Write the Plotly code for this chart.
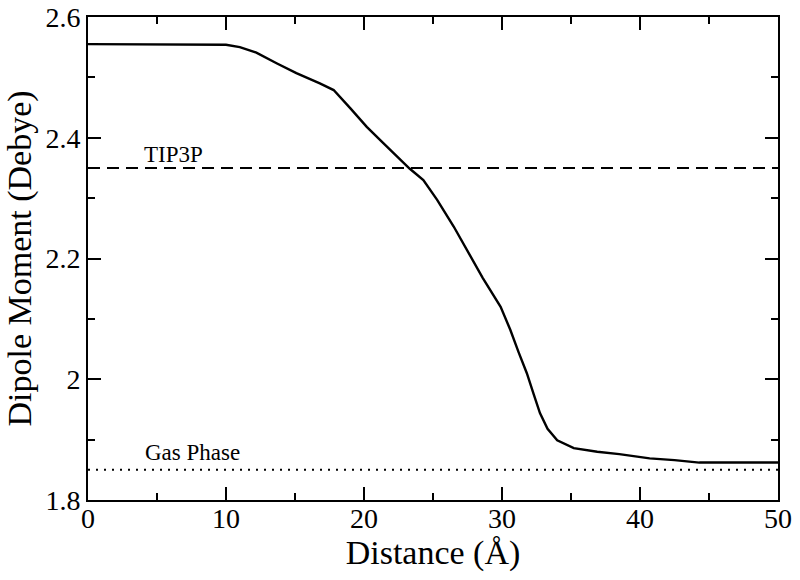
import plotly.graph_objects as go

# Data
distance = [0, 5, 10, 11, 12.2, 13.7, 15.1, 16.8, 17.8, 19.0, 20.2, 21.4, 22.4, 23.3,
            24.3, 25.3, 26.5, 27.7, 28.6, 29.9, 30.6, 31.2, 31.8, 32.3, 32.75, 33.3,
            34.0, 35.2, 36.9, 38.5, 40.7, 42.5, 44.3, 47, 50]
dipole = [2.555, 2.555, 2.554, 2.550, 2.541, 2.523, 2.507, 2.490, 2.479, 2.449, 2.418,
          2.391, 2.369, 2.349, 2.330, 2.297, 2.253, 2.203, 2.168, 2.120, 2.082, 2.045,
          2.010, 1.975, 1.944, 1.918, 1.899, 1.886, 1.880, 1.876, 1.869, 1.866, 1.862,
          1.862, 1.862]
x_range = [0, 50]
tip3p_value = 2.35
gas_phase_value = 1.85
ref_labels = ["TIP3P", "Gas Phase"]
ref_label_x = [6.2, 7.6]
ref_label_y = [2.373, 1.878]

FONT = "Liberation Serif, Times New Roman, serif"

fig = go.Figure()
fig.add_trace(go.Scatter(x=distance, y=dipole, mode="lines",
                         line=dict(color="black", width=2.4), showlegend=False))
fig.add_trace(go.Scatter(x=x_range, y=[tip3p_value, tip3p_value], mode="lines",
                         line=dict(color="black", width=2, dash="12px,7px"), showlegend=False))
fig.add_trace(go.Scatter(x=x_range, y=[gas_phase_value, gas_phase_value], mode="lines",
                         line=dict(color="black", width=2, dash="2px,6px"), showlegend=False))

for t, lx, ly in zip(ref_labels, ref_label_x, ref_label_y):
    fig.add_annotation(x=lx, y=ly, text=t, showarrow=False, xanchor="center", yanchor="middle",
                       font=dict(family=FONT, size=23, color="black"))

axis_common = dict(showline=True, linecolor="black", linewidth=2, mirror="ticks",
                   ticks="inside", ticklen=13, tickwidth=1.5, tickcolor="black",
                   showgrid=False, zeroline=False, automargin=False,
                   tickfont=dict(family=FONT, size=28, color="black"))

fig.update_xaxes(range=x_range, dtick=10, tick0=0,
                 minor=dict(ticks="inside", ticklen=7, dtick=5, tickwidth=1.5, tickcolor="black", showgrid=False),
                 title=dict(text="Distance (Å)", font=dict(family=FONT, size=34, color="black"), standoff=0),
                 ticklabelstandoff=-8,
                 **axis_common)
fig.update_yaxes(range=[1.8, 2.6], dtick=0.2, tick0=1.8,
                 minor=dict(ticks="inside", ticklen=7, dtick=0.1, tickwidth=1.5, tickcolor="black", showgrid=False),
                 title=dict(text="Dipole Moment (Debye)", font=dict(family=FONT, size=34, color="black"), standoff=4),
                 ticklabelstandoff=0,
                 **axis_common)

fig.update_layout(width=800, height=580, margin=dict(l=88, r=22, t=17, b=80, autoexpand=False),
                  paper_bgcolor="white", plot_bgcolor="white",
                  font=dict(family=FONT, color="black"))

fig.write_html("out.html", config={"displayModeBar": False},
               post_script="document.body.style.margin='0px';")
